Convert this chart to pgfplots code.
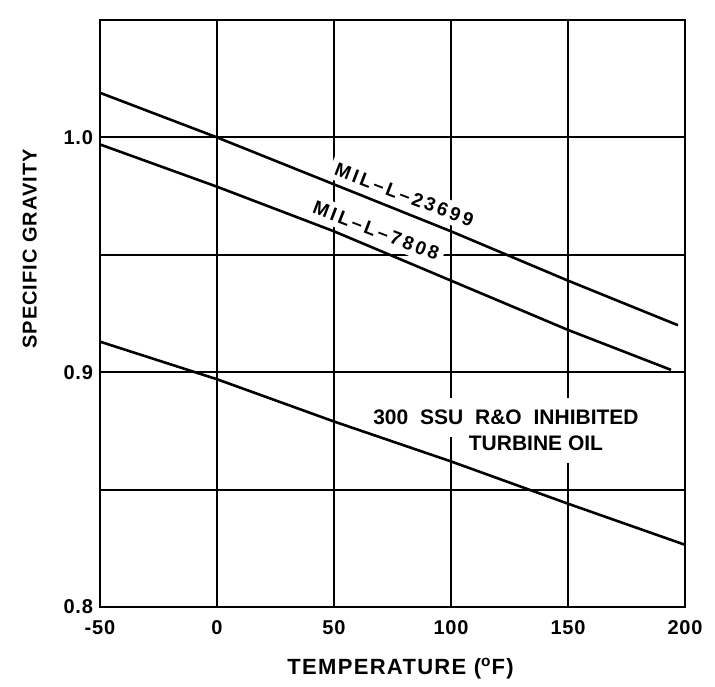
\documentclass[border=0pt]{standalone}
\usepackage{fontspec}
\setmainfont{Liberation Sans}
\newfontfamily\spacedfont[LetterSpace=15]{Liberation Sans Bold}
\newfontfamily\tickfont[LetterSpace=4]{Liberation Sans Bold}
\newfontfamily\ylabfont[LetterSpace=5]{Liberation Sans Bold}
\newfontfamily\xlabfont[LetterSpace=6]{Liberation Sans Bold}
\newfontfamily\boldfont{Liberation Sans Bold}
\usepackage{pgfplots}
\pgfplotsset{compat=1.18}
\begin{document}
\begin{tikzpicture}
\begin{axis}[
  scale only axis, width=292.5pt, height=293.5pt,
  xmin=-50, xmax=200, ymin=0.8, ymax=1.05,
  xtick={-50,0,50,100,150,200},
  xticklabels={-50,0,50,100,150,200},
  ytick={0.8,0.9,1.0},
  yticklabels={0.8,0.9,1.0},
  minor ytick={0.85,0.95},
  grid=both,
  major grid style={black, line width=1.1pt},
  minor grid style={black, line width=1.1pt},
  axis line style={black, line width=1.1pt},
  major tick length=0pt, minor tick length=0pt,
  tick label style={font=\fontsize{10}{12}\selectfont\tickfont},
  xticklabel style={yshift=-3pt},
  xlabel={TEMPERATURE (\textsuperscript{o}F)},
  ylabel={SPECIFIC GRAVITY},
  xlabel style={font=\fontsize{11}{13}\selectfont\xlabfont, at={(axis description cs:0.5,0)}, anchor=center, yshift=-31pt, xshift=4pt},
  ylabel style={font=\fontsize{10}{12}\selectfont\ylabfont, at={(axis description cs:-0.12,0.61)}, anchor=center},
  clip=false,
]
% labels first (white boxes interrupt the grid), curves drawn above
\node[rotate=-21, fill=white, inner sep=2.5pt, font=\fontsize{9.5}{11}\selectfont\spacedfont] at (axis cs:80,0.9756) {MIL–L–23699};
\node[rotate=-21, fill=white, inner sep=2.5pt, font=\fontsize{9.5}{11}\selectfont\spacedfont] at (axis cs:68,0.9603) {MIL–L–7808};
\node[fill=white, inner xsep=2pt, inner ysep=6pt, font=\fontsize{10.5}{12}\selectfont\boldfont] at (axis cs:123.5,0.8807) {300\hspace{3pt} SSU\hspace{3pt} R\&O\hspace{3pt} INHIBITED};
\node[fill=white, inner xsep=2pt, inner ysep=6pt, font=\fontsize{10.5}{12}\selectfont\boldfont] at (axis cs:136.3,0.8697) {TURBINE OIL};

\addplot[black, line width=1.3pt] coordinates {(-50,1.019) (0,1.000) (100,0.960) (150,0.939) (197,0.920)};
\addplot[black, line width=1.3pt] coordinates {(-50,0.997) (0,0.979) (50,0.960) (100,0.939) (150,0.918) (194,0.901)};
\addplot[black, line width=1.3pt] coordinates {(-50,0.913) (0,0.897) (50,0.879) (100,0.862) (150,0.844) (200,0.8265)};

\path (rel axis cs:0,0) ++(-50pt,-38pt);
\path (rel axis cs:1,1) ++(15pt,10pt);
\end{axis}
\end{tikzpicture}
\end{document}
